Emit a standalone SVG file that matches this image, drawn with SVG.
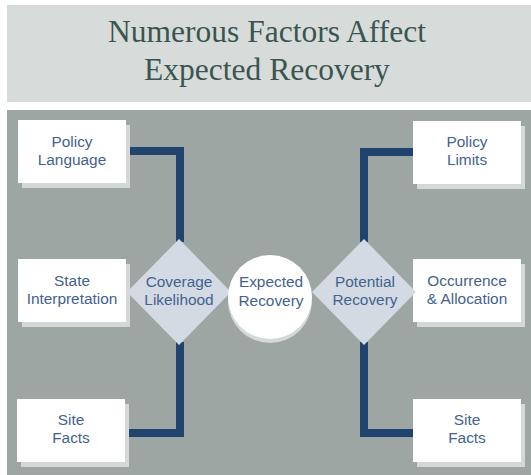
<svg xmlns="http://www.w3.org/2000/svg" width="531" height="475" viewBox="0 0 531 475">
<style>
.box{fill:#ffffff}
.sh{fill:#d4d9d7}
.dia{fill:#d3dae3}
.conn{fill:none;stroke:#21446f;stroke-width:8;stroke-linecap:butt;stroke-linejoin:miter}
.t{font-family:"Liberation Sans",Arial,sans-serif;font-size:15.4px;fill:#44628f;text-anchor:middle}
.title{font-family:"Liberation Serif","Times New Roman",serif;font-size:31.5px;fill:#3b5550;text-anchor:middle}
</style>
<rect x="0" y="0" width="531" height="475" fill="#ffffff"/>
<rect x="7" y="5" width="524" height="97" fill="#d7dcda"/>
<text class="title" x="267" y="42">Numerous Factors Affect</text>
<text class="title" x="267" y="80">Expected Recovery</text>
<rect x="7" y="110" width="524" height="365" fill="#9ea6a4"/>
<g id="connectors">
<path class="conn" d="M126,151 H180 V242"/>
<path class="conn" d="M180,342 V433 H125"/>
<path class="conn" d="M413,152 H364 V242"/>
<path class="conn" d="M364,342 V433 H413"/>
</g>
<g id="policy-language">
<rect class="sh" x="22" y="125" width="108" height="63"/>
<rect class="box" x="18" y="120" width="108" height="63"/>
<text class="t" x="72" y="147">Policy</text>
<text class="t" x="72" y="165">Language</text>
</g>
<g id="state-interpretation">
<rect class="sh" x="22" y="264" width="108" height="63"/>
<rect class="box" x="18" y="259" width="108" height="63"/>
<text class="t" x="72" y="286">State</text>
<text class="t" x="72" y="304">Interpretation</text>
</g>
<g id="site-facts-left">
<rect class="sh" x="21" y="404" width="108" height="63"/>
<rect class="box" x="17" y="399" width="108" height="63"/>
<text class="t" x="71" y="425">Site</text>
<text class="t" x="71" y="443">Facts</text>
</g>
<g id="policy-limits">
<rect class="sh" x="417" y="126" width="108" height="63"/>
<rect class="box" x="413" y="121" width="108" height="63"/>
<text class="t" x="467" y="147">Policy</text>
<text class="t" x="467" y="165">Limits</text>
</g>
<g id="occurrence-allocation">
<rect class="sh" x="417" y="264" width="108" height="63"/>
<rect class="box" x="413" y="259" width="108" height="63"/>
<text class="t" x="467" y="286">Occurrence</text>
<text class="t" x="467" y="304">&amp; Allocation</text>
</g>
<g id="site-facts-right">
<rect class="sh" x="417" y="404" width="108" height="63"/>
<rect class="box" x="413" y="399" width="108" height="63"/>
<text class="t" x="467" y="425">Site</text>
<text class="t" x="467" y="443">Facts</text>
</g>
<g id="coverage-likelihood">
<polygon class="dia" points="179,239 231,292 179,345 127,292"/>
<text class="t" x="179" y="287">Coverage</text>
<text class="t" x="179" y="305">Likelihood</text>
</g>
<g id="potential-recovery">
<polygon class="dia" points="364,239 416,292 364,345 312,292"/>
<text class="t" x="365" y="287">Potential</text>
<text class="t" x="365" y="305">Recovery</text>
</g>
<g id="expected-recovery">
<circle cx="270" cy="301" r="42" fill="#d4d9d7"/>
<circle cx="270" cy="297" r="42" fill="#ffffff"/>
<text class="t" x="271" y="287">Expected</text>
<text class="t" x="271" y="306">Recovery</text>
</g>
</svg>
